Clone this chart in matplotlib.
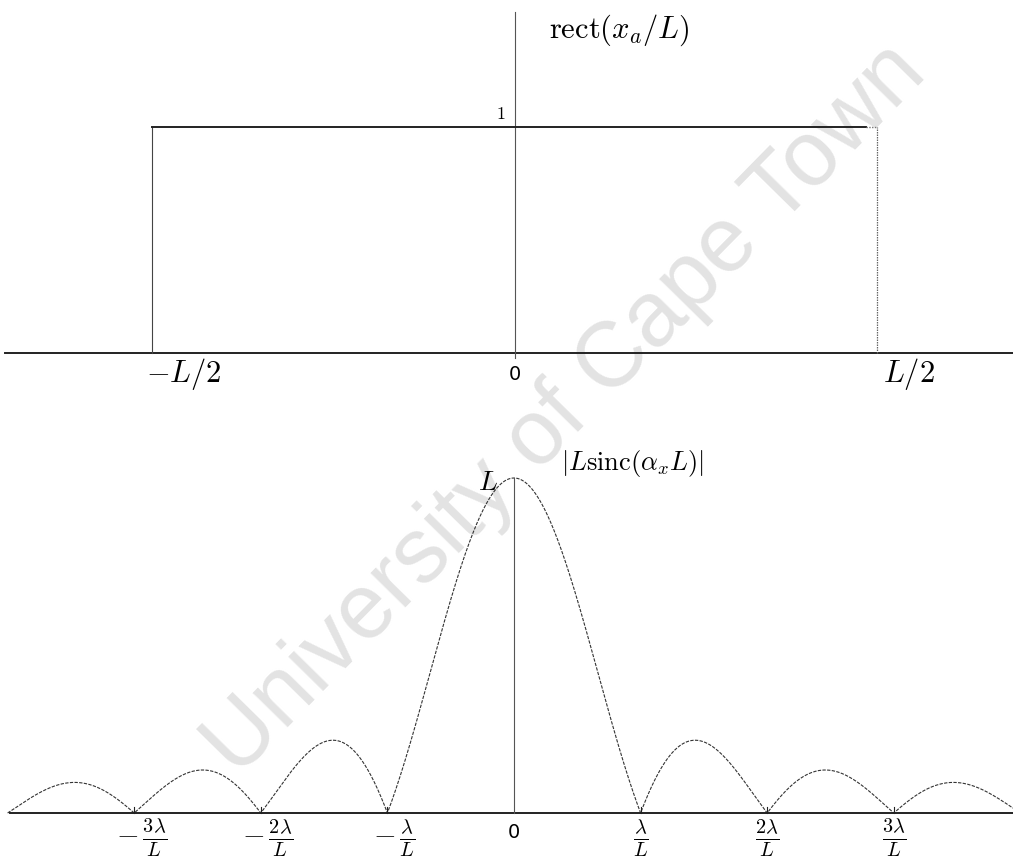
import numpy as np
import matplotlib
matplotlib.use("Agg")
import matplotlib.pyplot as plt

plt.rcParams["mathtext.fontset"] = "cm"

# Upper panel: aperture function rect(x_a / L), in units of L
rect_edges = [-0.5, 0.5]
rect_height = 1.0
rect_ticks = [-0.5, 0.0, 0.5]
rect_ticklabels = [r"$-L/2$", "0", r"$L/2$"]

# Lower panel: |L sinc(alpha_x L)|, x in units of lambda / L
L_value = 1.0
sinc_span = [-4.0, 4.0]
sinc_zeros = [-3, -2, -1, 1, 2, 3]
sinc_ticks = [-3, -2, -1, 0, 1, 2, 3]
sinc_ticklabels = [r"$-\,\frac{3\lambda}{L}$", r"$-\,\frac{2\lambda}{L}$", r"$-\,\frac{\lambda}{L}$",
                   "0", r"$\frac{\lambda}{L}$", r"$\frac{2\lambda}{L}$", r"$\frac{3\lambda}{L}$"]

W, H = 1013, 861
fig = plt.figure(figsize=(W / 100, H / 100), dpi=100)

# ---------------- top panel ----------------
top_h = 400
ax1 = fig.add_axes([0, 1 - top_h / H, 1, top_h / H])
ax1.set_axis_off()
ax1.set_zorder(1)
cx1, sx1 = 514.5, 725.0       # px of x=0, px per L
by1, sy1 = 353.0, 226.0       # px of baseline, px per unit height
ax1.set_xlim((0 - cx1) / sx1, (W - cx1) / sx1)
ax1.set_ylim((by1 - top_h) / sy1, by1 / sy1)

x_lo = (5 - cx1) / sx1
x_hi = (W - cx1) / sx1
ax1.plot([x_lo, x_hi], [0, 0], color="#222222", lw=1.4, zorder=3)
ax1.plot([0, 0], [-0.02, (by1 - 12) / sy1], color="#555555", lw=0.8, zorder=3)
ax1.plot([rect_edges[0], rect_edges[0]], [0, rect_height], color="#444444", lw=0.8, zorder=3)
ax1.plot([rect_edges[0], rect_edges[1] - 0.015], [rect_height, rect_height],
         color="#222222", lw=1.4, zorder=3)
ax1.plot([rect_edges[1] - 0.015, rect_edges[1]], [rect_height, rect_height],
         color="#777777", lw=1.0, ls=(0, (1, 1)), zorder=3)
ax1.plot([rect_edges[1], rect_edges[1]], [0, rect_height], color="#666666", lw=0.9,
         ls=(0, (1.2, 0.8)), zorder=3)

for t, lab in zip(rect_ticks, rect_ticklabels):
    if lab == "0":
        ax1.text(t, -22 / sy1, lab, ha="center", va="center", fontsize=14,
                 family="DejaVu Sans")
    else:
        ax1.text(t + 32 / sx1, -21 / sy1, lab, ha="center", va="center", fontsize=22)
ax1.text(-14 / sx1, rect_height + 13 / sy1, r"$1$", ha="center", va="center", fontsize=13)
ax1.text(105 / sx1, (by1 - 30) / sy1, r"$\mathrm{rect}(x_a/L)$", ha="center",
         va="center", fontsize=22)

# ---------------- bottom panel ----------------
bot_h = H - top_h
ax2 = fig.add_axes([0, 0, 1, bot_h / H])
ax2.set_axis_off()
ax2.set_zorder(1)
cx2, sx2 = 514.0, 126.6       # px of x=0, px per lambda/L
by2, sy2 = 813.0 - top_h, 335.0
ax2.set_xlim((0 - cx2) / sx2, (W - cx2) / sx2)
ax2.set_ylim((by2 - bot_h) / sy2, by2 / sy2)

u = np.linspace(sinc_span[0], sinc_span[1], 4001)
mag = np.abs(L_value * np.sinc(u))
ax2.plot(u, mag, color="#333333", lw=0.8, ls=(0, (3, 1.2)), zorder=3)
ax2.plot([(10 - cx2) / sx2, (W - cx2) / sx2], [0, 0], color="#222222", lw=1.4, zorder=3)
ax2.plot([0, 0], [0, L_value], color="#555555", lw=0.8, zorder=3)
for z in sinc_zeros:
    ax2.plot([z, z], [0, 6 / sy2], color="#222222", lw=0.8, zorder=3)

for t, lab in zip(sinc_ticks, sinc_ticklabels):
    if lab == "0":
        ax2.text(t, -19 / sy2, lab, ha="center", va="center", fontsize=14,
                 family="DejaVu Sans")
    else:
        dx = 7 / sx2 if t < 0 else 0
        ax2.text(t + dx, -25 / sy2, lab, ha="center", va="center", fontsize=21)
ax2.text(-26 / sx2, L_value - 4 / sy2, r"$L$", ha="center", va="center", fontsize=20)
ax2.text(118 / sx2, L_value + 14 / sy2, r"$|L\mathrm{sinc}(\alpha_x L)|$", ha="center",
         va="center", fontsize=19)

# watermark behind the plots
fig.text(566 / W, 1 - 410 / H, "University of Cape Town", fontsize=66,
         family="Liberation Sans", color="#e3e3e3", rotation=45.5,
         ha="center", va="center", rotation_mode="anchor", zorder=-1)

fig.savefig("out.png", dpi=100, facecolor="white")
